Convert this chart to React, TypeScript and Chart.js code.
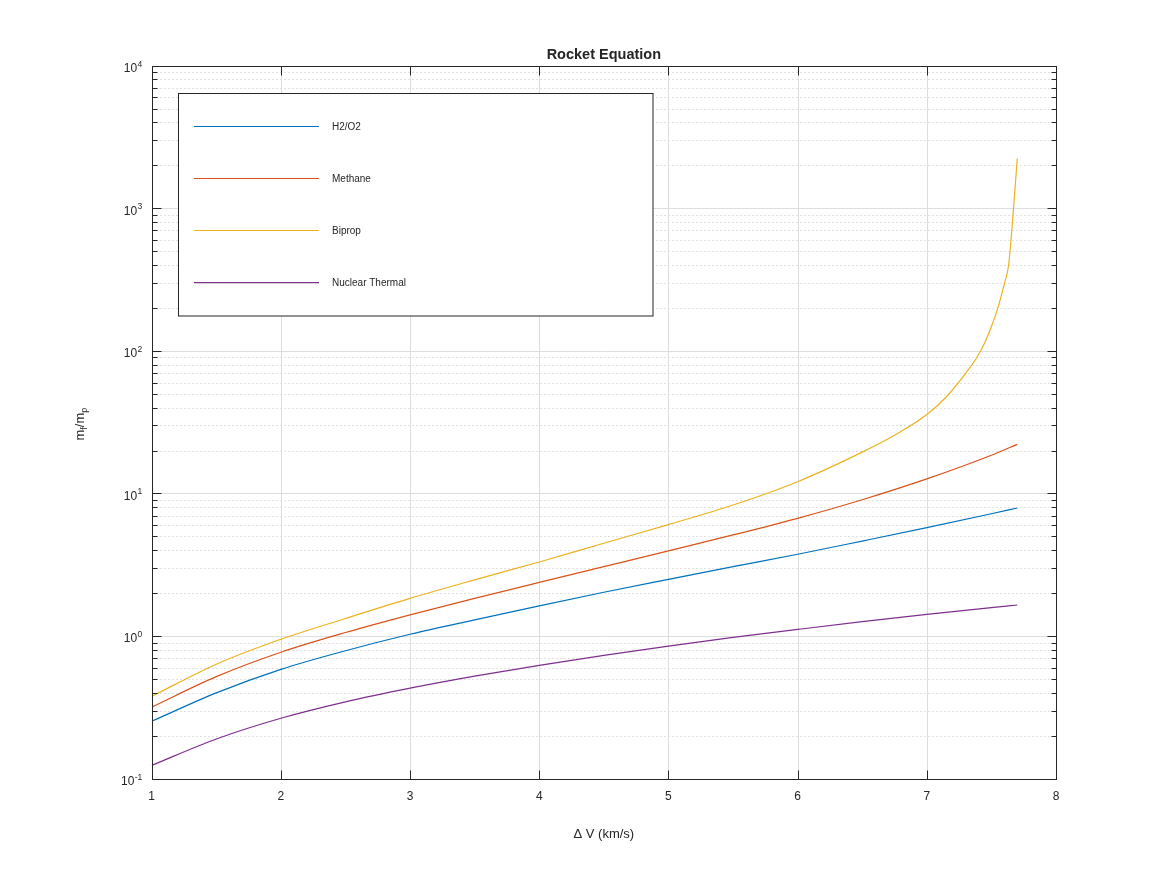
import React, { useEffect, useRef } from "react";
import { Chart, registerables } from "chart.js";

Chart.register(...registerables);

// ---- data ----
const dvSamples = [1, 1.5, 2, 2.5, 3, 3.5, 4, 4.5, 5, 5.5, 6, 6.5, 7, 7.5, 7.7];
const h2o2Ratio = [0.253, 0.4, 0.585, 0.79, 1.03, 1.3, 1.63, 2.03, 2.5, 3.07, 3.75, 4.64, 5.76, 7.21, 7.91];
const methaneRatio = [0.318, 0.52, 0.771, 1.06, 1.41, 1.84, 2.38, 3.07, 3.96, 5.12, 6.7, 9.04, 12.65, 18.53, 22.1];
const nuclearRatio = [0.124, 0.19, 0.2655, 0.346, 0.4315, 0.524, 0.624, 0.733, 0.851, 0.98, 1.114, 1.262, 1.419, 1.585, 1.652];
const bipropDv = [1, 1.5, 2, 2.5, 3, 3.5, 4, 4.5, 5, 5.5, 6, 6.5, 6.75, 7, 7.15, 7.3, 7.4, 7.45, 7.5, 7.55, 7.6, 7.633, 7.667, 7.7];
const bipropRatio = [0.378, 0.635, 0.95, 1.33, 1.84, 2.48, 3.31, 4.48, 6.05, 8.3, 12.1, 19.5, 25.6, 35.8, 47.5, 69.5, 94, 115, 148, 200, 295, 398, 890, 2230];

const seriesNames = ["H2/O2", "Methane", "Biprop", "Nuclear Thermal"];
const seriesColors = ["#0072BD", "#D95319", "#EDB120", "#7E2F8E"];

const xMin = 1;
const xMax = 8;
const xTickValues = [1, 2, 3, 4, 5, 6, 7, 8];
const yDecadeExponents = [-1, 0, 1, 2, 3, 4];
const yMin = 0.1;
const yMax = 10000;

const titleText = "Rocket Equation";
const xLabelText = "\u0394 V (km/s)";

const FONT = '"Liberation Sans", Arial, Helvetica, sans-serif';
const TEXT = "#262626";

const toPoints = (xs: number[], ys: number[]) => xs.map((x, i) => ({ x, y: ys[i] }));

const matlabAxes = {
  id: "matlabAxes",
  beforeDatasetsDraw(chart: any) {
    const { ctx, chartArea: a, scales } = chart;
    const xs = scales.x;
    const ys = scales.y;
    const L = Math.round(a.left) + 0.5;
    const R = Math.round(a.right) + 0.5;
    const T = Math.round(a.top) + 0.5;
    const B = Math.round(a.bottom) + 0.5;
    ctx.save();
    ctx.lineWidth = 1;
    // minor y dotted grid
    ctx.strokeStyle = "#c2c2c2";
    ctx.setLineDash([1, 3]);
    for (let i = 0; i < yDecadeExponents.length - 1; i++) {
      const base = Math.pow(10, yDecadeExponents[i]);
      for (let k = 2; k <= 9; k++) {
        const p = Math.round(ys.getPixelForValue(k * base)) + 0.5;
        ctx.beginPath();
        ctx.moveTo(L, p);
        ctx.lineTo(R, p);
        ctx.stroke();
      }
    }
    ctx.setLineDash([]);
    ctx.strokeStyle = "#dedede";
    yDecadeExponents.forEach((e) => {
      const p = Math.round(ys.getPixelForValue(Math.pow(10, e))) + 0.5;
      ctx.beginPath();
      ctx.moveTo(L, p);
      ctx.lineTo(R, p);
      ctx.stroke();
    });
    xs.ticks.forEach((t: any) => {
      const p = Math.round(xs.getPixelForValue(t.value)) + 0.5;
      ctx.beginPath();
      ctx.moveTo(p, T);
      ctx.lineTo(p, B);
      ctx.stroke();
    });
    ctx.restore();
  },
  afterDatasetsDraw(chart: any) {
    const { ctx, chartArea: a, scales } = chart;
    const xs = scales.x;
    const ys = scales.y;
    const L = Math.round(a.left) + 0.5;
    const R = Math.round(a.right) + 0.5;
    const T = Math.round(a.top) + 0.5;
    const B = Math.round(a.bottom) + 0.5;
    ctx.save();
    ctx.strokeStyle = TEXT;
    ctx.fillStyle = TEXT;
    ctx.lineWidth = 1;
    // frame
    ctx.strokeRect(L, T, R - L, B - T);
    // x ticks (inward, top & bottom)
    xs.ticks.forEach((t: any) => {
      const p = Math.round(xs.getPixelForValue(t.value)) + 0.5;
      ctx.beginPath();
      ctx.moveTo(p, B);
      ctx.lineTo(p, B - 9);
      ctx.moveTo(p, T);
      ctx.lineTo(p, T + 9);
      ctx.stroke();
    });
    // y ticks (major + minor), left & right
    for (let i = 0; i < yDecadeExponents.length; i++) {
      const base = Math.pow(10, yDecadeExponents[i]);
      const p = Math.round(ys.getPixelForValue(base)) + 0.5;
      ctx.beginPath();
      ctx.moveTo(L, p);
      ctx.lineTo(L + 9, p);
      ctx.moveTo(R, p);
      ctx.lineTo(R - 9, p);
      ctx.stroke();
      if (i < yDecadeExponents.length - 1) {
        for (let k = 2; k <= 9; k++) {
          const q = Math.round(ys.getPixelForValue(k * base)) + 0.5;
          ctx.beginPath();
          ctx.moveTo(L, q);
          ctx.lineTo(L + 5, q);
          ctx.moveTo(R, q);
          ctx.lineTo(R - 5, q);
          ctx.stroke();
        }
      }
    }
    // x tick labels
    ctx.font = `12px ${FONT}`;
    ctx.textAlign = "center";
    ctx.textBaseline = "alphabetic";
    xs.ticks.forEach((t: any) => {
      const p = xs.getPixelForValue(t.value);
      ctx.fillText(String(t.value), p, a.bottom + 20.8);
    });
    // y tick labels 10^n
    const rightEdge = a.left - 9.5;
    yDecadeExponents.forEach((e) => {
      const p = ys.getPixelForValue(Math.pow(10, e));
      const expStr = e < 0 ? "-" + Math.abs(e) : String(e);
      ctx.font = `8.5px ${FONT}`;
      const wExp = ctx.measureText(expStr).width;
      ctx.textAlign = "left";
      ctx.fillText(expStr, rightEdge - wExp, p + 1);
      ctx.font = `12px ${FONT}`;
      ctx.textAlign = "right";
      ctx.fillText("10", rightEdge - wExp - 0.3, p + 6.3);
    });
    // title
    ctx.font = `bold 14.5px ${FONT}`;
    ctx.textAlign = "center";
    ctx.fillText(titleText, (a.left + a.right) / 2, 59.3);
    // x label
    ctx.font = `13px ${FONT}`;
    ctx.fillText(xLabelText, (a.left + a.right) / 2, 837.5);
    // y label m_f/m_p rotated
    ctx.save();
    ctx.translate(83.5, (a.top + a.bottom) / 2 + 2);
    ctx.rotate(-Math.PI / 2);
    const parts: [string, boolean][] = [["m", false], ["f", true], ["/m", false], ["p", true]];
    const fontFor = (sub: boolean) => (sub ? `9px ${FONT}` : `13px ${FONT}`);
    let total = 0;
    parts.forEach(([s, sub]) => {
      ctx.font = fontFor(sub);
      total += ctx.measureText(s).width;
    });
    let cx = -total / 2;
    ctx.textAlign = "left";
    parts.forEach(([s, sub]) => {
      ctx.font = fontFor(sub);
      ctx.fillText(s, cx, sub ? 3.5 : 0);
      cx += ctx.measureText(s).width;
    });
    ctx.restore();
    // legend box
    const bx = 178.5, by = 93.5, bw = 474.5, bh = 222.5;
    ctx.fillStyle = "#ffffff";
    ctx.fillRect(bx, by, bw, bh);
    ctx.strokeStyle = TEXT;
    ctx.strokeRect(bx, by, bw, bh);
    const rowY = [126.5, 178.5, 230.5, 282.7];
    chart.data.datasets.forEach((ds: any, i: number) => {
      const y = rowY[i];
      ctx.strokeStyle = ds.borderColor;
      ctx.lineWidth = 1.2;
      ctx.beginPath();
      ctx.moveTo(194, y);
      ctx.lineTo(319, y);
      ctx.stroke();
      ctx.fillStyle = TEXT;
      ctx.font = `10px ${FONT}`;
      ctx.textAlign = "left";
      ctx.textBaseline = "middle";
      ctx.fillText(ds.label, 332, y + 0.5);
    });
    ctx.restore();
  },
};

export default function App() {
  const canvasRef = useRef<HTMLCanvasElement | null>(null);

  useEffect(() => {
    const canvas = canvasRef.current;
    if (!canvas) return;
    const seriesX = [dvSamples, dvSamples, bipropDv, dvSamples];
    const seriesY = [h2o2Ratio, methaneRatio, bipropRatio, nuclearRatio];
    const datasets = seriesNames.map((name, i) => ({
      label: name,
      data: toPoints(seriesX[i], seriesY[i]),
      borderColor: seriesColors[i],
      backgroundColor: seriesColors[i],
      borderWidth: 1.2,
      showLine: true,
      pointRadius: 0,
      pointHoverRadius: 0,
      cubicInterpolationMode: "monotone" as const,
      fill: false,
    }));
    const chart = new Chart(canvas, {
      type: "scatter",
      data: { datasets },
      options: {
        animation: false,
        responsive: false,
        devicePixelRatio: 1,
        events: [],
        layout: { padding: { left: 151.7, top: 65.6, right: 111, bottom: 96.25 } },
        plugins: {
          legend: { display: false },
          title: { display: false },
          tooltip: { enabled: false },
        },
        scales: {
          x: {
            type: "linear",
            min: xMin,
            max: xMax,
            afterBuildTicks: (s: any) => {
              s.ticks = xTickValues.map((v) => ({ value: v }));
            },
            ticks: { display: false, stepSize: 1 },
            grid: { display: false, drawTicks: false },
            border: { display: false },
            afterFit: (s: any) => {
              s.height = 0;
            },
          },
          y: {
            type: "logarithmic",
            min: yMin,
            max: yMax,
            ticks: { display: false },
            grid: { display: false, drawTicks: false },
            border: { display: false },
            afterFit: (s: any) => {
              s.width = 0;
            },
          },
        },
      } as any,
      plugins: [matlabAxes],
    });
    return () => chart.destroy();
  }, []);

  return (
    <div style={{ position: "absolute", left: 0, top: 0, width: 1167, height: 875, background: "#ffffff" }}>
      <canvas ref={canvasRef} width={1167} height={875} style={{ display: "block" }} />
    </div>
  );
}
